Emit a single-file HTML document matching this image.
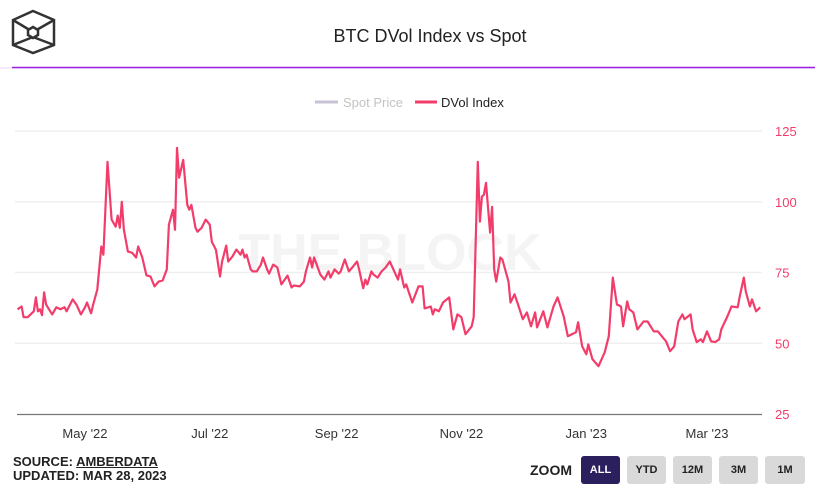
<!DOCTYPE html>
<html><head><meta charset="utf-8"><style>
body{margin:0;width:815px;height:488px;background:#fff;font-family:"Liberation Sans",sans-serif;overflow:hidden;position:relative}
.btn{position:absolute;top:456px;width:39px;height:28px;background:#d9d9d9;border-radius:3px;font-size:11px;font-weight:bold;color:#222;text-align:center;line-height:28px}
</style></head><body>
<svg width="815" height="488" style="position:absolute;left:0;top:0">
<g fill="none" stroke="#333" stroke-width="2.5">
<polygon points="33,11 54,20 54,45 33,53 13,45 13,20"/>
<line x1="13" y1="20" x2="33" y2="32"/><line x1="54" y1="20" x2="33" y2="32"/>
<line x1="13" y1="45" x2="33" y2="37"/><line x1="54" y1="45" x2="33" y2="37"/>
<polygon points="33,27 38,30 38,35 33,38 28,35 28,30" fill="#fff"/>
</g>
<line x1="0" y1="68" x2="815" y2="68" stroke="#ecd4f7" stroke-width="1"/>
<line x1="12" y1="67.5" x2="815" y2="67.5" stroke="#9b1fe0" stroke-width="1.5"/>
<text x="430" y="42" text-anchor="middle" font-size="18" fill="#222">BTC DVol Index vs Spot</text>
<g><line x1="315" y1="102" x2="338" y2="102" stroke="#c8c3d4" stroke-width="3"/><text x="343" y="107" font-size="13" fill="#c3c3c3">Spot Price</text></g>
<g><line x1="415" y1="102" x2="437" y2="102" stroke="#f23d6b" stroke-width="3"/><text x="441" y="107" font-size="13" fill="#222">DVol Index</text></g>
<text x="390" y="270" text-anchor="middle" font-size="52" font-weight="bold" fill="#f4f4f4">THE BLOCK</text>
<g id="grid"></g><g id="axes"></g><g id="series"></g>
</svg>
<div style="position:absolute;left:13px;top:455px;font-size:13px;font-weight:bold;color:#222;line-height:14px">SOURCE: <span style="text-decoration:underline">AMBERDATA</span><br>UPDATED: MAR 28, 2023</div>
<div style="position:absolute;left:530px;top:462px;font-size:14px;font-weight:bold;color:#222">ZOOM</div>
<div class="btn" style="left:581px;background:#2b1f5e;color:#fff">ALL</div>
<div class="btn" style="left:627px">YTD</div>
<div class="btn" style="left:673px">12M</div>
<div class="btn" style="left:719px">3M</div>
<div class="btn" style="left:765px;width:40px">1M</div>
<script>
// days since 2022-04-01
const days=[-3,-1,0,2,5,6,7,8,9,10,11,13,14,16,18,20,21,24,26,28,30,31,33,34,36,38,39,41,43,45,46,47,48,49,51,53,55,56,58,60,62,64,66,68,70,71,73,74,75,76,78,80,81,82,84,85,87,89,91,92,94,96,97,99,100,102,104,106,107,108,109,111,112,114,116,117,119,120,122,124,126,129,131,132,135,137,138,140,141,142,145,147,149,150,152,154,155,157,159,161,163,164,166,167,168,170,171,173,175,177,179,183,184,186,187,190,193,195,196,199,200,201,203,205,208,210,212,214,216,219,220,222,223,224,225,226,228,229,230,231,233,234,237,238,240,242,244,246,248,250,251,254,256,259,261,264,266,270,271,273,275,276,278,281,284,286,288,290,292,293,295,296,298,300,303,305,308,310,314,316,318,320,322,323,326,327,329,331,332,334,336,338,340,341,344,346,349,350,352,353,355,356,358,360];
const dvol=[62.0,63.0,59.2,59.2,61.3,66.2,61.3,62.0,59.9,68.0,63.7,61.3,60.2,62.7,62.0,62.7,61.3,65.5,63.4,60.2,62.7,64.4,60.6,63.7,69.0,84.2,81.3,114.1,93.7,91.2,95.1,90.8,100.0,90.1,82.4,82.0,80.3,84.2,80.3,74.0,73.6,70.1,71.8,72.2,76.1,91.9,97.2,90.1,119.0,108.5,114.8,98.9,97.2,98.9,90.8,89.4,90.8,93.7,91.9,85.9,83.1,73.6,78.9,84.5,78.9,80.6,83.1,81.3,83.1,80.3,81.3,76.1,75.4,75.4,77.8,80.3,76.1,74.6,77.8,76.8,70.8,73.9,69.7,70.4,70.1,71.8,75.4,80.3,76.8,80.3,74.3,72.5,75.4,73.2,76.1,74.6,75.4,79.6,75.4,77.1,78.9,76.1,69.4,72.5,70.8,75.4,74.3,73.2,75.4,76.8,78.9,72.5,76.1,69.7,70.8,64.4,70.1,70.1,62.3,63.0,60.2,62.0,61.3,64.4,66.2,54.9,60.2,59.2,53.2,56.0,59.2,114.1,93.0,101.8,102.5,106.7,89.1,98.2,76.1,71.8,80.3,79.6,71.8,64.4,67.3,63.0,58.5,60.9,56.0,60.9,55.6,61.3,55.6,63.0,66.2,59.5,52.5,53.9,57.4,48.9,46.1,49.6,44.4,41.9,46.8,52.5,73.2,63.7,63.0,56.0,64.8,62.0,60.9,54.9,57.7,57.7,54.2,54.2,50.7,47.2,48.9,57.7,60.2,58.5,60.2,54.9,50.4,51.4,50.4,54.2,50.7,50.4,51.4,54.9,59.5,63.0,62.7,66.5,73.2,68.3,63.0,65.5,61.3,62.7];
const yTicks=[25,50,75,100,125];
const xTickDays=[30,91,153,214,275,334];
const xTickLabels=["May '22","Jul '22","Sep '22","Nov '22","Jan '23","Mar '23"];
const NS="http://www.w3.org/2000/svg";
function xs(d){return 23.6+d*2.046;}
function ys(v){return 414-(v-25)*(283/100);}
const grid=document.getElementById('grid'),axes=document.getElementById('axes'),ser=document.getElementById('series');
yTicks.forEach(t=>{
  if(t>25){const l=document.createElementNS(NS,'line');
  
  
  l.setAttribute('x1',15);l.setAttribute('x2',762);l.setAttribute('y1',ys(t));l.setAttribute('y2',ys(t));
  l.setAttribute('stroke','#efefef');l.setAttribute('stroke-width','1.5');grid.appendChild(l);}
  const tx=document.createElementNS(NS,'text');
  
  
  tx.setAttribute('x',775);tx.setAttribute('y',ys(t)+5);tx.setAttribute('font-size','13');tx.setAttribute('fill','#f23d6b');
  tx.textContent=t;axes.appendChild(tx);
});
const ax=document.createElementNS(NS,'line');


ax.setAttribute('x1',17);ax.setAttribute('x2',762);ax.setAttribute('y1',414.5);ax.setAttribute('y2',414.5);
ax.setAttribute('stroke','#777');ax.setAttribute('stroke-width','1.2');axes.appendChild(ax);
xTickDays.forEach((d,i)=>{
  const tx=document.createElementNS(NS,'text');
  
  
  tx.setAttribute('x',xs(d));tx.setAttribute('y',438);tx.setAttribute('text-anchor','middle');
  tx.setAttribute('font-size','13');tx.setAttribute('fill','#333');tx.textContent=xTickLabels[i];axes.appendChild(tx);
});
const p=document.createElementNS(NS,'path');


p.setAttribute('d',days.map((d,i)=>(i?'L':'M')+xs(d).toFixed(1)+','+ys(dvol[i]).toFixed(1)).join(''));
p.setAttribute('fill','none');p.setAttribute('stroke','#f23d6b');p.setAttribute('stroke-width','2.2');p.setAttribute('stroke-linejoin','round');
ser.appendChild(p);
</script>
</body></html>
